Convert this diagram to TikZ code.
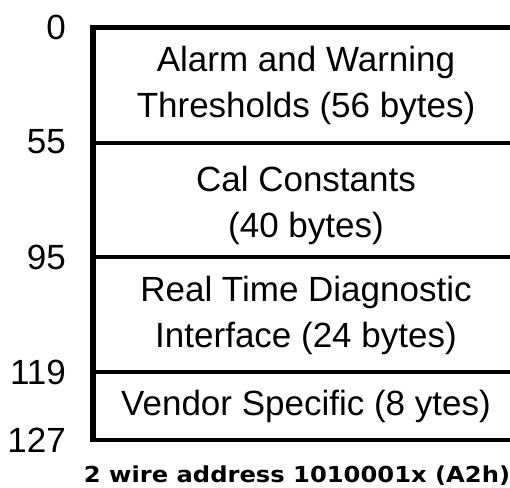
\documentclass[tikz,border=0pt]{standalone}
\usepackage{fontspec}
\setmainfont{Liberation Sans}
\newfontfamily\addrfont{DejaVu Sans}[FakeStretch=1.1]
\tikzset{
  field/.style={align=center, inner sep=0pt, font=\fontsize{35}{46}\selectfont},
  offset/.style={anchor=east, inner sep=0pt, font=\fontsize{35}{40}\selectfont},
  divider/.style={line width=4pt},
}
\begin{document}
\begin{tikzpicture}[x=1pt,y=-1pt]
  \useasboundingbox (0,0) rectangle (510,487);
  \clip (0,0) rectangle (510,487);

  % Drawing left edge and boundaries of the map
  \draw [line width=6pt] (93,25) -- (93,442);%
  \draw [line width=5pt] (90,27.5) -- (520,27.5);%
  \draw [divider] (93,143) -- (520,143);%
  \draw [divider] (93,256.5) -- (520,256.5);%
  \draw [divider] (93,371.5) -- (520,371.5);%
  \draw [divider] (90,440) -- (520,440);%

  % Marking byte offsets
  \node [offset] (off0) at (66,27.5) {0};%
  \node [offset] (off55) at (66,142) {55};%
  \node [offset] (off95) at (66,257) {95};%
  \node [offset] (off119) at (66,372) {119};%
  \node [offset] (off127) at (66,440) {127};%

  % Marking the fields
  \node [field] (alarm) at (306,85) {Alarm and Warning\\Thresholds (56 bytes)};%
  \node [field] (cal) at (306,205) {Cal Constants\\(40 bytes)};%
  \node [field] (diag) at (306,315) {Real Time Diagnostic\\Interface (24 bytes)};%
  \node [field] (vendor) at (306,406) {Vendor Specific (8 ytes)};%

  % Marking the address
  \node [font=\addrfont\bfseries\fontsize{22}{26}\selectfont, inner sep=0pt, anchor=base]
    (addr) at (297,482.5) {2 wire address 1010001x (A2h)};%
\end{tikzpicture}
\end{document}
